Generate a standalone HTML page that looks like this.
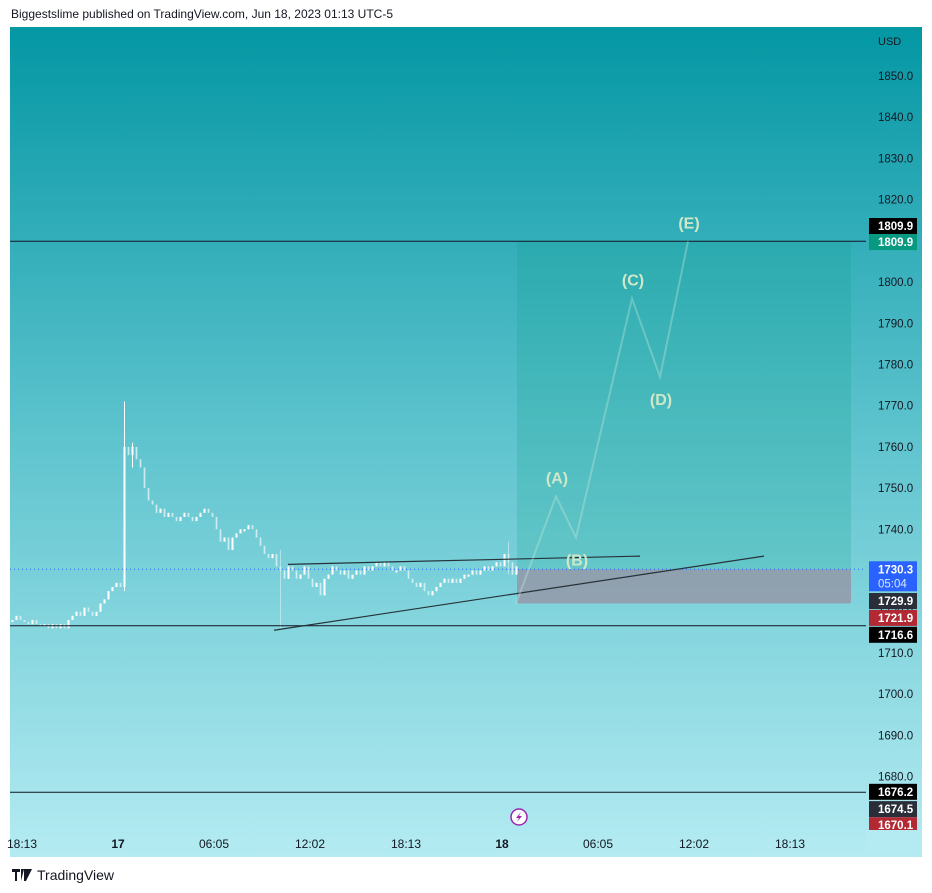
<!DOCTYPE html>
<html><head><meta charset="utf-8">
<style>
html,body{margin:0;padding:0;background:#fff;}
body{width:932px;height:893px;position:relative;overflow:hidden;font-family:"Liberation Sans","DejaVu Sans",sans-serif;}
#hdr{position:absolute;left:11px;top:7px;font-size:12px;color:#131722;}
#foot{position:absolute;left:12px;top:867px;font-size:14px;color:#131722;display:flex;align-items:center;gap:5px;}
svg{position:absolute;left:0;top:0;}
</style></head>
<body>
<div id="hdr">Biggestslime published on TradingView.com, Jun 18, 2023 01:13 UTC-5</div>
<svg id="chart" width="932" height="893">
<defs>
<linearGradient id="bg" x1="0" y1="0" x2="0" y2="1">
<stop offset="0" stop-color="#0497a4"/><stop offset="0.5" stop-color="#5fc4ce"/><stop offset="1" stop-color="#b4ebf2"/>
</linearGradient>
</defs>
<rect x="10" y="27" width="912" height="830" fill="url(#bg)"/>
<g id="layer"></g>
</svg>
<div id="foot"><svg width="20" height="12" style="position:static"><path d="M0 0h8v3H5v9H3V3H0z M9 0h3l-3 12z M12 0h8l-6 12h-2z" fill="#131722"/></svg><span>TradingView</span></div>
<script>
const closes=[1718,1719,1718,1717.5,1717,1718,1717,1716.5,1717,1716,1717,1716,
1717,1716,1718,1719,1720,1719,1721,1720,1719,1720,
1722,1723,1725,1726,1727,1726,
1760,
1758,1760,1757,1755,1750,
1747,1746,1744,1745,
1743,1744,1743,1742,1743,1744,1743,1742,1743,1744,1745,1744,1743,
1740,1737,1738,1735,
1738,1739,1740,1740,1741,1740,1738,1736,
1734,1733,1734,1731,
1730,
1728,1731,1730,1728,1729,1731,1728,1726,1727,1724,
1728,1729,1731,1730,1729,1730,1728,1729,1730,1729,1731,1730,1731,1732,1731,1732,1731,1730,
1730,1731,1730,1728,1727,1726,1727,1725,1724,
1725,1726,1727,1728,1727,1728,1727,1728,1729,1729,1730,1729,1730,1731,
1730,1731,1732,1731,1734,
1732,1729,1731];
const wickIdx=[28,67,124,30];
const wickHigh=[1771,1735,1737,1761];
const wickLow=[1725,1716,1729,1755];
const priceTicks=[1850,1840,1830,1820,1810,1800,1790,1780,1770,1760,1750,1740,1730,1720,1710,1700,1690,1680];
const timeLabels=["18:13","17","06:05","12:02","18:13","18","06:05","12:02","18:13"];
const timeBold=[false,true,false,false,false,true,false,false,false];
const waveLabels=["(A)","(B)","(C)","(D)","(E)"];
const waveBar=[136,141,155,162,169];
const wavePrice=[1748,1738,1796,1777,1809.9];
const waveStartBar=126, waveStartPrice=1722;
const hLines=[1809.9,1716.6,1676.2];
const entry=1730.3, target=1809.9, stop=1722.0;
const trendA=[[69,1731.5],[157,1733.5]];
const trendB=[[65.5,1715.5],[188,1733.5]];
const axisBoxes=[["1809.9",1813.6,"#000"],["1809.9",1809.7,"#089981"],["1729.9",1722.6,"#2a2e39"],["1721.9",1718.5,"#b22833"],["1716.6",1714.4,"#000"],["1676.2",1676.3,"#000"],["1674.5",1672.1,"#2a2e39"],["1670.1",1668.2,"#b22833"]];

const y=p=>76+(1850-p)*4.121;
const x=i=>12+i*4;
const L=document.getElementById('layer');
const NS="http://www.w3.org/2000/svg";
function mk(t,a){const e=document.createElementNS(NS,t);for(const k in a)e.setAttribute(k,a[k]);L.appendChild(e);return e;}

let z=mk('rect',{x:517,y:y(target),width:334,height:y(entry)-y(target),fill:'rgba(8,153,129,0.18)'});


z=mk('rect',{x:517,y:y(entry),width:334,height:y(stop)-y(entry),fill:'rgba(160,120,140,0.55)',rx:2});



for(let i=0;i<closes.length;i++){
  const o=i?closes[i-1]:closes[0], c=closes[i];
  const k=wickIdx.indexOf(i);
  let hi=Math.max(o,c), lo=Math.min(o,c);
  if(k>=0){hi=wickHigh[k];lo=wickLow[k];}
  const up=c>=o;
  const col=up?'#ffffff':'rgba(225,245,248,0.55)';
  const w=mk('line',{x1:x(i)+0.5,x2:x(i)+0.5,y1:y(hi),y2:Math.max(y(lo),y(hi)+2),stroke:col,'stroke-width':1});
  
  
  const b=mk('rect',{x:x(i)-0.5,y:y(Math.max(o,c)),width:2,height:Math.max(2,Math.abs(y(o)-y(c))),fill:col});
  
  
}

hLines.forEach(p=>{const l=mk('line',{x1:10,x2:866,y1:y(p),y2:y(p),stroke:'#131722','stroke-width':1});

});
let dl=mk('line',{x1:10,x2:866,y1:y(entry),y2:y(entry),stroke:'#2962ff','stroke-width':1,'stroke-dasharray':'1 3'});



[trendA,trendB].forEach(t=>{const l=mk('line',{x1:x(t[0][0]),y1:y(t[0][1]),x2:x(t[1][0]),y2:y(t[1][1]),stroke:'#263238','stroke-width':1.2});

});

let pts=[[x(waveStartBar),y(waveStartPrice)]];
waveBar.forEach((b,i)=>pts.push([x(b),y(wavePrice[i])]));
let pl=mk('polyline',{points:pts.map(p=>p.join(',')).join(' '),fill:'none',stroke:'rgba(200,235,220,0.35)','stroke-width':2});


const labAbove=[true,false,true,false,true];
waveLabels.forEach((t,i)=>{const px=pts[i+1];const tt=mk('text',{x:px[0]+1,y:labAbove[i]?px[1]-13:px[1]+28,'text-anchor':'middle','font-size':16,'font-weight':'bold',fill:'#cfe8c8'});
tt.textContent=t;

});

let u=mk('text',{x:878,y:45,'font-size':11,fill:'#131722'});u.textContent='USD';


priceTicks.forEach(p=>{const t=mk('text',{x:878,y:y(p)+4,'font-size':11.5,fill:'#131722'});t.textContent=p.toFixed(1);

});
axisBoxes.forEach(b=>{const yy=y(b[1]);const r=mk('rect',{x:869,y:yy-8,width:48,height:16,fill:b[2]});


const t=mk('text',{x:878,y:yy+4,'font-size':11.5,'font-weight':'bold',fill:'#fff'});t.textContent=b[0];

});
let cb=mk('rect',{x:869,y:y(entry)-8,width:48,height:30,fill:'#2962ff'});


let ct=mk('text',{x:878,y:y(entry)+4,'font-size':11.5,'font-weight':'bold',fill:'#fff'});ct.textContent=entry.toFixed(1);


ct=mk('text',{x:878,y:y(entry)+18,'font-size':11.5,fill:'#dde6ff'});ct.textContent='05:04';


let cov=mk('rect',{x:866,y:830,width:56,height:27,fill:'#b4ebf2'});



timeLabels.forEach((t,i)=>{const tt=mk('text',{x:22+i*96,y:848,'text-anchor':'middle','font-size':12,'font-weight':timeBold[i]?'bold':'normal',fill:'#131722'});tt.textContent=t;

});

let ic=mk('circle',{cx:519,cy:817,r:8,fill:'#fff',stroke:'#9c27b0','stroke-width':1.5});


let bolt=mk('path',{d:'M521 812 L516 818 L519 818 L517 822 L522 816 L519 816 Z',fill:'#9c27b0'});


</script>
</body></html>
